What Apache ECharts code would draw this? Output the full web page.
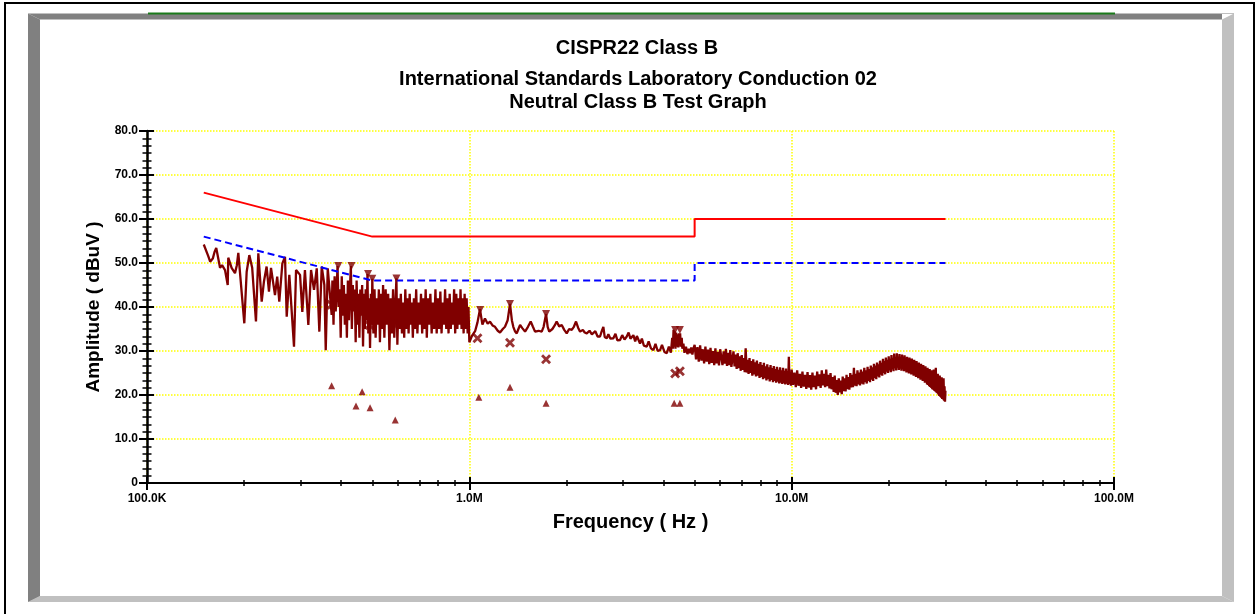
<!DOCTYPE html>
<html>
<head>
<meta charset="utf-8">
<title>CISPR22 Class B</title>
<script src="https://cdn.jsdelivr.net/npm/echarts@6.0.0/dist/echarts.min.js"></script>
<style>
  html, body { margin: 0; padding: 0; background: #fff; }
  #main { width: 1259px; height: 614px; }
</style>
</head>
<body>
<div id="main"></div>
<script>
// frequencies in MHz, levels in dBuV
const limitQp = [[0.15, 66], [0.5, 56], [5, 56], [5, 60], [30, 60]];
const limitAv = [[0.15, 56], [0.5, 46], [5, 46], [5, 50], [30, 50]];

const traceLow = [
  [0.150, 54.2], [0.152, 54], [0.155, 51.5], [0.157, 50.3], [0.160, 51], [0.162, 52.5], [0.164, 53.4],
  [0.166, 53.4], [0.1685, 48.9], [0.171, 49.5], [0.1746, 48.4], [0.178, 45], [0.1787, 51.2], [0.183, 48.9],
  [0.1875, 47.7], [0.190, 49.5], [0.192, 52.3], [0.1944, 52.6], [0.2004, 36.3], [0.2038, 48], [0.2077, 51.8],
  [0.212, 48.9], [0.2178, 36.7], [0.2215, 52.2], [0.2269, 41.2], [0.2306, 45.8], [0.235, 49.2], [0.239, 43.5],
  [0.2425, 48.9], [0.2495, 42.7], [0.2535, 46.9], [0.2573, 41.2], [0.263, 49.9], [0.268, 51.4], [0.2713, 37.8],
  [0.2764, 47.3], [0.2858, 31], [0.290, 48.4], [0.2984, 47.3], [0.3033, 38.9], [0.309, 48.4], [0.3166, 35.9],
  [0.3228, 48.4], [0.3297, 43.9], [0.3362, 48.8], [0.3425, 34.4], [0.3484, 49.2], [0.355, 45], [0.3585, 30.2],
  [0.3637, 48.8], [0.374, 38.2]
];

const traceNoise = [
  [0.376, 46], [0.379, 36], [0.382, 47], [0.385, 39], [0.388, 45], [0.390, 49.3], [0.393, 40], [0.396, 44],
  [0.399, 33], [0.402, 47], [0.405, 38], [0.408, 45], [0.411, 36], [0.414, 43], [0.417, 33], [0.420, 46],
  [0.423, 37], [0.426, 44], [0.429, 49.3], [0.432, 35], [0.435, 45], [0.438, 39], [0.441, 44], [0.444, 32],
  [0.447, 46], [0.450, 36], [0.453, 43], [0.456, 33], [0.459, 44], [0.462, 38], [0.465, 45], [0.468, 31],
  [0.471, 43], [0.474, 35], [0.477, 44], [0.480, 37], [0.483, 47.5], [0.486, 34], [0.489, 42], [0.492, 30.7],
  [0.495, 43], [0.498, 36], [0.500, 46.4], [0.504, 34], [0.508, 44], [0.512, 33], [0.516, 42], [0.520, 36],
  [0.524, 44], [0.528, 32], [0.532, 43], [0.536, 35], [0.540, 45], [0.545, 33], [0.550, 44], [0.555, 36],
  [0.560, 43], [0.565, 30.2], [0.570, 42], [0.575, 34], [0.580, 44], [0.585, 33], [0.590, 41], [0.594, 46.5],
  [0.598, 31.4], [0.603, 42], [0.608, 35], [0.613, 43], [0.618, 34], [0.623, 41], [0.628, 33], [0.633, 44],
  [0.638, 35], [0.643, 42], [0.648, 34], [0.653, 43], [0.658, 36], [0.663, 41], [0.668, 33], [0.673, 42],
  [0.678, 35], [0.684, 44], [0.690, 34], [0.696, 41], [0.702, 36], [0.708, 43], [0.714, 34], [0.720, 42],
  [0.726, 35], [0.732, 44], [0.738, 33], [0.744, 42], [0.750, 36], [0.757, 43], [0.764, 34], [0.771, 41],
  [0.778, 35], [0.785, 44], [0.792, 34], [0.799, 42], [0.806, 35], [0.813, 43.5], [0.820, 34], [0.827, 41],
  [0.834, 36], [0.841, 44], [0.848, 35], [0.855, 42], [0.862, 34], [0.869, 43], [0.876, 35], [0.883, 41],
  [0.890, 36], [0.897, 44], [0.904, 34], [0.911, 43], [0.918, 35], [0.925, 42], [0.932, 36], [0.939, 44],
  [0.946, 35], [0.953, 42], [0.960, 34], [0.967, 43], [0.974, 35], [0.981, 42], [0.988, 34], [0.994, 40],
  [1.000, 32]
];

const traceMid = [
  [1.02, 33.5], [1.042, 34.5], [1.06, 36.5], [1.079, 39.5], [1.098, 36], [1.118, 37.4], [1.14, 36.2],
  [1.159, 36.7], [1.18, 35.8], [1.201, 35.5], [1.225, 34.6], [1.245, 34.2], [1.27, 35], [1.29, 35.5],
  [1.315, 37], [1.337, 40.7], [1.355, 37], [1.369, 35.5], [1.385, 34.5], [1.403, 34], [1.42, 35],
  [1.437, 35.9], [1.46, 35.2], [1.489, 34.4], [1.52, 35.5], [1.55, 36.7], [1.575, 35.5], [1.599, 34.4],
  [1.64, 34.6], [1.677, 34.4], [1.70, 35.5], [1.73, 38.4], [1.75, 35.5], [1.77, 34.4], [1.81, 35],
  [1.84, 35.8], [1.866, 36.7], [1.90, 35.6], [1.935, 35.9], [1.97, 34.8], [2.005, 34], [2.04, 35],
  [2.078, 34.8], [2.11, 35.5], [2.143, 36.7], [2.175, 35.3], [2.206, 34.4], [2.25, 34.8], [2.28, 34.2],
  [2.314, 34], [2.36, 34.6], [2.40, 33.8], [2.426, 33.6], [2.46, 34.5], [2.50, 33.3], [2.544, 33.3],
  [2.575, 34.5], [2.605, 35.5], [2.63, 33.2], [2.669, 32.9], [2.70, 33.8], [2.74, 32.8], [2.798, 32.9],
  [2.84, 33.9], [2.88, 32.4], [2.935, 32.5], [2.98, 33.6], [3.03, 32.6], [3.079, 33.3], [3.12, 34.2],
  [3.16, 32.8], [3.228, 33.6], [3.27, 32.2], [3.31, 33.4], [3.385, 31.7], [3.43, 32.8], [3.48, 31.2],
  [3.551, 31], [3.60, 32.2], [3.66, 30.6], [3.724, 30.2], [3.78, 31.6], [3.84, 30], [3.906, 30.2],
  [3.96, 31.4], [4.03, 29.8], [4.098, 29.5], [4.16, 31], [4.22, 29.6], [4.26, 33], [4.28, 30.5],
  [4.30, 34.8], [4.32, 31], [4.34, 34.5], [4.36, 30.5], [4.38, 34.2], [4.40, 31], [4.42, 33.8],
  [4.45, 30.8], [4.47, 34], [4.49, 31.5], [4.508, 34], [4.53, 31], [4.56, 33], [4.58, 30.5],
  [4.615, 31.7], [4.65, 29.6], [4.70, 31], [4.75, 29.3], [4.80, 30.5], [4.84, 29.5], [4.88, 30.8],
  [4.92, 29.2], [4.96, 30.6]
];

const traceHigh = [
  [5.0, 31.4], [5.05, 28.1], [5.1, 30.9], [5.15, 27.6], [5.2, 31.3], [5.25, 27.8], [5.3, 30.4], [5.35, 27.2],
  [5.4, 31.0], [5.45, 27.6], [5.5, 30.3], [5.55, 27.0], [5.6, 30.7], [5.65, 27.3], [5.7, 30.0], [5.75, 26.8],
  [5.8, 30.6], [5.85, 27.2], [5.9, 29.8], [5.95, 26.7], [6.0, 30.4], [6.1, 26.8], [6.15, 29.9], [6.2, 27.1],
  [6.25, 30.5], [6.3, 26.6], [6.35, 29.6], [6.4, 26.8], [6.45, 30.2], [6.5, 26.4], [6.6, 29.9], [6.65, 26.5],
  [6.7, 29.2], [6.75, 25.9], [6.8, 29.5], [6.85, 26.1], [6.9, 28.8], [6.95, 25.5], [7.0, 29.1], [7.05, 25.7],
  [7.1, 28.4], [7.15, 25.2], [7.2, 30.6], [7.25, 25.1], [7.3, 28.0], [7.35, 24.8], [7.4, 28.4], [7.45, 25.0],
  [7.5, 27.7], [7.55, 24.4], [7.6, 28.1], [7.65, 24.7], [7.7, 27.4], [7.75, 24.2], [7.8, 27.8], [7.85, 24.4],
  [7.9, 27.1], [7.95, 23.9], [8.0, 27.5], [8.05, 24.1], [8.1, 26.8], [8.15, 23.6], [8.2, 27.3], [8.25, 23.8],
  [8.3, 26.5], [8.35, 23.3], [8.4, 27.0], [8.45, 23.6], [8.5, 26.3], [8.55, 23.1], [8.6, 26.8], [8.65, 23.4],
  [8.7, 26.1], [8.75, 22.9], [8.8, 26.6], [8.85, 23.2], [8.9, 25.9], [8.95, 22.8], [9.0, 26.4], [9.05, 23.0],
  [9.1, 25.7], [9.15, 22.6], [9.2, 26.3], [9.25, 22.8], [9.3, 25.6], [9.35, 22.5], [9.4, 26.2], [9.45, 22.7],
  [9.5, 25.5], [9.55, 22.4], [9.6, 26.0], [9.65, 22.6], [9.7, 25.4], [9.75, 22.3], [9.8, 28.7], [9.85, 22.5],
  [9.9, 25.2], [9.95, 22.1], [10.0, 25.8], [10.1, 22.3], [10.2, 25.1], [10.3, 21.8], [10.4, 25.6], [10.5, 22.1],
  [10.6, 24.8], [10.7, 21.6], [10.8, 25.3], [10.9, 21.9], [11.0, 24.6], [11.1, 21.4], [11.2, 25.2], [11.3, 21.7],
  [11.4, 24.5], [11.5, 21.2], [11.6, 25.1], [11.7, 21.8], [11.8, 24.4], [11.9, 21.3], [12.0, 25.3], [12.1, 22.0],
  [12.2, 24.7], [12.3, 21.6], [12.4, 25.6], [12.5, 22.2], [12.6, 24.8], [12.7, 21.8], [12.8, 25.8], [12.9, 22.0],
  [13.0, 24.6], [13.1, 21.5], [13.2, 25.0], [13.3, 21.3], [13.4, 24.1], [13.5, 20.7], [13.6, 24.4], [13.7, 20.5],
  [13.8, 23.4], [13.9, 20.0], [14.0, 23.8], [14.1, 20.6], [14.2, 23.3], [14.3, 20.2], [14.4, 24.2], [14.5, 20.9],
  [14.6, 23.8], [14.7, 20.8], [14.8, 24.6], [14.9, 21.3], [15.0, 24.1], [15.1, 21.2], [15.2, 25.0], [15.3, 21.7],
  [15.4, 24.6], [15.5, 21.8], [15.6, 26.2], [15.7, 22.1], [15.8, 24.8], [15.9, 22.0], [16.0, 25.6], [16.1, 22.4],
  [16.2, 25.1], [16.3, 22.2], [16.4, 25.8], [16.5, 22.6], [16.6, 25.3], [16.7, 22.4], [16.8, 26.2], [16.9, 22.9],
  [17.0, 25.6], [17.1, 22.6], [17.2, 26.4], [17.3, 23.2], [17.4, 25.9], [17.5, 22.9], [17.6, 26.7], [17.7, 23.5],
  [17.8, 26.3], [17.9, 23.2], [18.0, 27.1], [18.1, 23.9], [18.2, 26.7], [18.3, 23.6], [18.4, 27.4], [18.5, 24.2],
  [18.6, 27.0], [18.7, 24.0], [18.8, 27.8], [18.9, 24.6], [19.0, 27.3], [19.1, 24.4], [19.2, 28.2], [19.3, 25.0],
  [19.4, 27.7], [19.5, 24.7], [19.6, 28.5], [19.7, 25.3], [19.8, 28.0], [19.9, 25.0], [20.0, 28.8], [20.1, 25.6],
  [20.2, 28.2], [20.3, 25.2], [20.4, 29.1], [20.5, 25.8], [20.6, 28.4], [20.7, 25.4], [20.8, 29.4], [20.9, 26.1],
  [21.0, 28.6], [21.1, 25.6], [21.2, 29.5], [21.3, 26.2], [21.4, 28.7], [21.5, 25.7], [21.6, 29.3], [21.7, 26.0],
  [21.8, 28.4], [21.9, 25.5], [22.0, 29.2], [22.1, 25.9], [22.2, 28.3], [22.3, 25.4], [22.4, 29.0], [22.5, 25.6],
  [22.6, 27.9], [22.7, 25.1], [22.8, 28.7], [22.9, 25.3], [23.0, 27.7], [23.1, 24.9], [23.2, 28.5], [23.3, 25.1],
  [23.4, 27.4], [23.5, 24.7], [23.6, 28.3], [23.7, 24.8], [23.8, 27.2], [23.9, 24.4], [24.0, 28.0], [24.1, 24.5],
  [24.2, 26.8], [24.3, 24.1], [24.4, 27.7], [24.5, 24.2], [24.6, 26.5], [24.7, 23.8], [24.8, 27.4], [24.9, 23.9],
  [25.0, 26.2], [25.1, 23.5], [25.2, 27.1], [25.3, 23.6], [25.4, 25.9], [25.5, 23.2], [25.6, 26.8], [25.7, 23.2],
  [25.8, 25.5], [25.9, 22.8], [26.0, 26.5], [26.1, 22.8], [26.2, 25.2], [26.3, 22.4], [26.4, 26.2], [26.5, 22.3],
  [26.6, 24.8], [26.7, 22.0], [26.8, 25.9], [26.9, 21.8], [27.0, 24.5], [27.1, 21.6], [27.2, 25.6], [27.3, 21.3],
  [27.4, 24.1], [27.5, 21.2], [27.6, 25.8], [27.7, 21.0], [27.8, 23.8], [27.9, 20.8], [28.0, 26.2], [28.1, 20.6],
  [28.2, 23.5], [28.3, 20.4], [28.4, 24.8], [28.5, 20.1], [28.6, 23.2], [28.7, 19.8], [28.8, 24.4], [28.9, 19.6],
  [29.0, 22.8], [29.1, 19.4], [29.2, 24.0], [29.3, 19.1], [29.4, 22.4], [29.5, 19.0], [29.6, 23.8], [29.7, 18.7],
  [29.8, 22.0], [29.9, 18.5], [30.0, 21.0]
];

// peak (down triangle), quasi-peak (x) and average (up triangle) readings
const peakMarks = [[0.392, 49.3], [0.431, 49.3], [0.485, 47.5], [0.50, 46.4], [0.594, 46.5],
  [1.08, 39.3], [1.337, 40.7], [1.73, 38.4], [4.35, 34.8], [4.5, 34.8]];
const qpMarks = [[0.374, 40.5], [0.437, 40.8], [0.49, 35.9], [0.58, 36.3],
  [1.06, 32.9], [1.337, 31.9], [1.73, 28.1], [4.35, 24.9], [4.5, 25.4]];
const avMarks = [[0.374, 22.1], [0.445, 17.5], [0.465, 20.75], [0.492, 17.1], [0.589, 14.3],
  [1.07, 19.5], [1.337, 21.75], [1.73, 18.1], [4.32, 18.1], [4.5, 18.1]];

const titleLines = ['CISPR22 Class B', 'International Standards Laboratory Conduction 02', 'Neutral Class B Test Graph'];

const toHz = (arr) => arr.map(p => [p[0] * 1e6, p[1]]);

// minor log ticks 2..9 per decade, placed on a helper axis in log10 units
let minorTicks = [];
for (let d = 5; d < 8; d++) {
  for (let k = 2; k <= 9; k++) minorTicks.push(Math.log10(k * Math.pow(10, d)));
}

const FONT = 'Liberation Sans, Arial, sans-serif';
const MAROON = '#800000';

let chart = echarts.init(document.getElementById('main'), null, { renderer: 'canvas' });

const freqLabel = (v) => {
  if (v >= 1e6) return (v / 1e6).toFixed(1) + 'M';
  return (v / 1e3).toFixed(1) + 'K';
};

const logAxisBase = {
  type: 'log', logBase: 10, min: 1e5, max: 1e8, position: 'bottom', gridIndex: 0
};
const helperAxisBase = {
  type: 'value', min: 5, max: 8, position: 'bottom', gridIndex: 0,
  axisLine: { show: false }, axisLabel: { show: false }, splitLine: { show: false }
};

var option = {
  animation: false,
  backgroundColor: '#ffffff',
  grid: { left: 147, right: 145, top: 131, bottom: 131 },
  graphic: [
    { type: 'rect', shape: { x: 5, y: 3, width: 1249, height: 700 }, style: { fill: 'none', stroke: '#000', lineWidth: 2 } },
    { type: 'polygon', shape: { points: [[1234, 13.5], [1234, 602], [1222, 596], [1222, 19.5]] }, style: { fill: '#c0c0c0' } },
    { type: 'polygon', shape: { points: [[28, 602], [1234, 602], [1222, 596], [40, 596]] }, style: { fill: '#c0c0c0' } },
    { type: 'polygon', shape: { points: [[28, 13.5], [40, 19.5], [40, 596], [28, 602]] }, style: { fill: '#808080' } },
    { type: 'polygon', shape: { points: [[28, 13.5], [1222, 13.5], [1222, 19.5], [40, 19.5]] }, style: { fill: '#808080' } },
    { type: 'line', shape: { x1: 28, y1: 13.5, x2: 1234, y2: 13.5 }, style: { stroke: '#c0c0c0', lineWidth: 1 } },
    { type: 'line', shape: { x1: 148, y1: 13.5, x2: 1115, y2: 13.5 }, style: { stroke: '#1a7a1a', lineWidth: 2 } },
    { type: 'text', style: { text: titleLines[0], x: 637, y: 48, align: 'center', verticalAlign: 'middle', font: 'bold 20px ' + FONT, fill: '#000' } },
    { type: 'text', style: { text: titleLines[1], x: 638, y: 79, align: 'center', verticalAlign: 'middle', font: 'bold 20px ' + FONT, fill: '#000' } },
    { type: 'text', style: { text: titleLines[2], x: 638, y: 102, align: 'center', verticalAlign: 'middle', font: 'bold 20px ' + FONT, fill: '#000' } }
  ],
  xAxis: [
    Object.assign({}, logAxisBase, {
      name: 'Frequency ( Hz )',
      nameLocation: 'middle',
      nameGap: 29,
      nameTextStyle: { color: '#000', fontWeight: 'bold', fontSize: 20, fontFamily: FONT },
      axisLine: { show: true, lineStyle: { color: '#000', width: 2 } },
      axisTick: { show: true, inside: false, length: 7, lineStyle: { color: '#000', width: 2 } },
      axisLabel: { show: true, margin: 10, color: '#000', fontWeight: 'bold', fontSize: 12, fontFamily: FONT, formatter: freqLabel, showMinLabel: true, showMaxLabel: true },
      splitLine: { show: true, lineStyle: { color: '#ffff00', type: 'dotted', width: 1.5 } }
    }),
    Object.assign({}, logAxisBase, {
      axisLine: { show: false },
      axisTick: { show: true, inside: true, length: 6, lineStyle: { color: '#000', width: 2 } },
      axisLabel: { show: false },
      splitLine: { show: false }
    }),
    Object.assign({}, helperAxisBase, {
      axisTick: { show: true, inside: false, length: 3, customValues: minorTicks, lineStyle: { color: '#000', width: 1.5 } }
    }),
    Object.assign({}, helperAxisBase, {
      axisTick: { show: true, inside: true, length: 3, customValues: minorTicks, lineStyle: { color: '#000', width: 1.5 } }
    })
  ],
  yAxis: [
    {
      type: 'value', min: 0, max: 80, interval: 10, position: 'left',
      name: 'Amplitude ( dBuV )',
      nameLocation: 'middle',
      nameGap: 44,
      nameTextStyle: { color: '#000', fontWeight: 'bold', fontSize: 19, fontFamily: FONT },
      axisLine: { show: true, lineStyle: { color: '#000', width: 2.5 } },
      axisTick: { show: true, inside: false, length: 8, lineStyle: { color: '#000', width: 2 } },
      minorTick: { show: true, splitNumber: 6, length: 4.5, lineStyle: { color: '#000', width: 1.5 } },
      axisLabel: {
        margin: 9, color: '#000', fontWeight: 'bold', fontSize: 12, fontFamily: FONT,
        formatter: (v) => (v === 0 ? '0' : v.toFixed(1))
      },
      splitLine: { show: true, lineStyle: { color: '#ffff00', type: 'dotted', width: 1.5 } }
    },
    {
      type: 'value', min: 0, max: 80, interval: 10, position: 'left',
      axisLine: { show: false },
      axisTick: { show: true, inside: true, length: 7, lineStyle: { color: '#000', width: 2 } },
      minorTick: { show: true, splitNumber: 6, length: 4.5, lineStyle: { color: '#000', width: 1.5 } },
      axisLabel: { show: false },
      splitLine: { show: false }
    }
  ],
  series: [
    {
      name: 'QP limit', type: 'line', data: toHz(limitQp), showSymbol: false, z: 3,
      lineStyle: { color: '#ff0000', width: 2 }
    },
    {
      name: 'AV limit', type: 'line', data: toHz(limitAv), showSymbol: false, z: 3,
      lineStyle: { color: '#0000ff', width: 2, type: [7, 4] }
    },
    {
      name: 'Neutral', type: 'line', showSymbol: false, z: 2,
      data: toHz(traceLow.concat(traceNoise, traceMid, traceHigh)),
      lineStyle: { color: MAROON, width: 2.3 }
    },
    {
      name: 'Peak', type: 'scatter', data: toHz(peakMarks), symbol: 'triangle', symbolRotate: 180, symbolSize: 8, z: 4,
      itemStyle: { color: MAROON }
    },
    {
      name: 'QP', type: 'scatter', data: toHz(qpMarks), z: 4,
      symbol: 'path://M0,2L2,0L5,3L8,0L10,2L7,5L10,8L8,10L5,7L2,10L0,8L3,5Z', symbolSize: 10,
      itemStyle: { color: MAROON }
    },
    {
      name: 'AV', type: 'scatter', data: toHz(avMarks), symbol: 'triangle', symbolSize: 7, z: 4,
      itemStyle: { color: MAROON }
    }
  ]
};

chart.setOption(option);
window.addEventListener('resize', chart.resize);
</script>
</body>
</html>
